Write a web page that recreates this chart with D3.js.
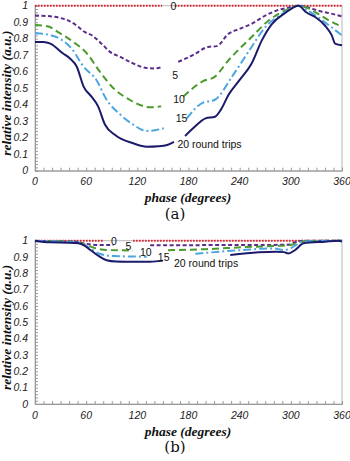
<!DOCTYPE html>
<html><head><meta charset="utf-8">
<script src="https://cdn.jsdelivr.net/npm/d3@7"></script>
<style>body{margin:0;background:#fff}svg{display:block}</style>
</head><body><svg id="c" width="350" height="461"></svg>
<script>
// ---- data ----
const xTicks = [0, 60, 120, 180, 240, 300, 360];
const yTicks = [0, 0.1, 0.2, 0.3, 0.4, 0.5, 0.6, 0.7, 0.8, 0.9, 1];
const seriesNames = ["0", "5", "10", "15", "20"];
const seriesColors = ["#e0242e", "#5a2d8c", "#4b9a2c", "#4ea6e0", "#1b1a6b"];
const seriesDash = ["1.6,1.4", "4,2.5", "7,4", "8,3,2,3", null];

// panel (a): [phase, value]; null = gap
const a0 = [[0,1],[149,1],null,[164,1],[360,1]];
const a5 = [[0,0.94],[15,0.937],[30,0.925],[41,0.905],[50,0.875],[57,0.845],[68,0.816],[78,0.77],[88,0.72],[100,0.69],[115,0.65],[131,0.622],[140,0.62],[150,0.63],null,
  [168,0.66],[185,0.70],[203,0.75],[213,0.755],[227,0.83],[240,0.86],[254,0.89],[270,0.94],[286,0.975],[300,0.99],[309,1.0],[320,0.99],[332,0.97],[345,0.955],[360,0.935]];
const a10 = [[0,0.883],[15,0.875],[27,0.84],[45,0.78],[61,0.71],[76,0.60],[92,0.50],[111,0.43],[125,0.395],[135,0.384],[148,0.39],null,
  [174,0.45],[185,0.50],[196,0.54],[211,0.57],[227,0.67],[240,0.74],[254,0.81],[274,0.91],[293,0.97],[309,1.0],[320,0.985],[332,0.95],[345,0.91],[360,0.873]];
const a15 = [[0,0.833],[15,0.825],[29,0.80],[43,0.74],[57,0.63],[72,0.55],[84,0.43],[100,0.34],[115,0.28],[131,0.24],[151,0.257],null,
  [178,0.317],[196,0.41],[211,0.43],[231,0.57],[254,0.75],[270,0.87],[290,0.95],[309,1.0],[320,0.97],[332,0.93],[345,0.88],[360,0.82]];
const a20 = [[0,0.78],[10,0.78],[18,0.77],[33,0.71],[41,0.68],[49,0.63],[57,0.51],[66,0.45],[74,0.39],[82,0.28],[94,0.216],[115,0.166],[131,0.145],[145,0.148],[155,0.156],[163,0.175],null,
  [176,0.21],[186,0.26],[200,0.317],[211,0.327],[218,0.37],[227,0.46],[240,0.55],[254,0.65],[266,0.79],[278,0.89],[293,0.954],[309,1.0],[318,0.96],[329,0.93],[340,0.88],[348,0.82],[352,0.77],[360,0.76]];

// panel (b)
const b0 = [[0,1],[80,1],null,[115,1],[360,1]];
const b5 = [[0,0.997],[45,0.995],[60,0.98],[75,0.973],[92,0.973],null,
  [135,0.972],[200,0.973],[260,0.974],[297,0.975],[305,0.99],[315,1.0],[360,1.0]];
const b10 = [[0,0.998],[45,0.993],[60,0.975],[70,0.955],[85,0.943],[115,0.94],null,
  [156,0.942],[200,0.948],[243,0.96],[280,0.968],[301,0.975],[310,0.99],[320,0.998],[360,1.0]];
const b15 = [[0,0.999],[50,0.99],[62,0.96],[76,0.92],[92,0.906],[131,0.902],null,
  [188,0.92],[243,0.943],[278,0.953],[293,0.943],[305,0.97],[313,0.994],[360,1.0]];
const b20 = [[0,1],[18,0.99],[40,0.988],[51,0.984],[58,0.97],[65,0.943],[75,0.905],[84,0.88],[95,0.872],[107,0.871],[135,0.871],[150,0.878],null,
  [229,0.912],[262,0.929],[282,0.933],[292,0.93],[297,0.922],[305,0.943],[315,0.984],[340,0.994],[356,1.0],[360,0.995]];

// label texts with anchor data positions [phase, value]
const labelTextsA = ["0", "5", "10", "15", "20 round trips"];
const labelPosA = [[159,0.995],[161,0.58],[162,0.43],[165,0.32],[167,0.16]];
const labelPosB = [[89,0.997],[106,0.963],[123,0.93],[144,0.898],[163,0.862]];

// ---- drawing ----
const svg = d3.select("#c");
const panels = [
  {top: 5.7, bottom: 170.7, series: [a0,a5,a10,a15,a20], labels: labelPosA, tag: "(a)"},
  {top: 240.7, bottom: 404, series: [b0,b5,b10,b15,b20], labels: labelPosB, tag: "(b)"}
];
const left = 35, right = 342;

panels.forEach(p => {
  const x = d3.scaleLinear().domain([0,360]).range([left,right]);
  const y = d3.scaleLinear().domain([0,1]).range([p.bottom,p.top]);
  const g = svg.append("g");

  // frame
  g.append("rect").attr("x",left).attr("y",p.top).attr("width",right-left).attr("height",p.bottom-p.top)
    .attr("fill","none").attr("stroke","#b8b8b8").attr("stroke-width",1);

  // minor ticks
  const yAx = d3.axisLeft(y).tickValues(d3.range(0,1.001,0.02)).tickSize(-3).tickFormat("");
  const ya = g.append("g").attr("transform",`translate(${left},0)`).call(yAx);
  ya.select(".domain").attr("stroke","#999");
  ya.selectAll("line").attr("stroke","#999");
  const xAx = d3.axisBottom(x).tickValues(d3.range(0,361,10)).tickSize(-3).tickFormat("");
  const xa = g.append("g").attr("transform",`translate(0,${p.bottom})`).call(xAx);
  xa.select(".domain").attr("stroke","#999");
  xa.selectAll("line").attr("stroke","#999");

  // tick labels
  g.selectAll(".yl").data(yTicks).join("text")
    .attr("x", left-7).attr("y", d => y(d)).attr("dy","0.35em")
    .attr("text-anchor","end").attr("font-family","Liberation Sans, Arial, sans-serif")
    .attr("font-style","italic").attr("font-size",10.5).attr("fill","#222")
    .text(d => d3.format("")(+d.toFixed(1)));
  g.selectAll(".xl").data(xTicks).join("text")
    .attr("x", d => x(d)).attr("y", p.bottom+11).attr("dy","0.35em")
    .attr("text-anchor","middle").attr("font-family","Liberation Sans, Arial, sans-serif")
    .attr("font-style","italic").attr("font-size",10.5).attr("fill","#222")
    .text(d => d);

  // axis titles
  const midY = (p.top+p.bottom)/2 + 5;
  g.append("text").attr("transform",`translate(11,${midY}) rotate(-90)`)
    .attr("text-anchor","middle").attr("font-family","Liberation Serif, Times New Roman, serif")
    .attr("font-weight","bold").attr("font-style","italic").attr("font-size",13.5).attr("fill","#111")
    .text("relative intensity (a.u.)");
  g.append("text").attr("x",188).attr("y",p.bottom+27).attr("dy","0.35em")
    .attr("text-anchor","middle").attr("font-family","Liberation Serif, Times New Roman, serif")
    .attr("font-weight","bold").attr("font-style","italic").attr("font-size",13.5).attr("fill","#111")
    .text("phase (degrees)");
  g.append("text").attr("x",175).attr("y",p.bottom+43).attr("dy","0.35em")
    .attr("text-anchor","middle").attr("font-family","DejaVu Serif, Liberation Serif, serif")
    .attr("font-size",15).attr("fill","#111")
    .text(p.tag);

  // lines
  const line = d3.line().defined(d => d !== null)
    .x(d => x(d[0])).y(d => y(d[1])).curve(d3.curveMonotoneX);
  p.series.forEach((s,i) => {
    g.append("path").attr("d", line(s)).attr("fill","none")
      .attr("stroke", seriesColors[i]).attr("stroke-width", 2)
      .attr("stroke-dasharray", seriesDash[i]);
  });

  // labels
  labelTextsA.forEach((t,i) => {
    g.append("text").attr("x", x(p.labels[i][0])).attr("y", y(p.labels[i][1])).attr("dy","0.35em")
      .attr("font-family","Liberation Sans, Arial, sans-serif").attr("font-size",10.5).attr("fill","#111")
      .text(t);
  });
});
</script></body></html>
